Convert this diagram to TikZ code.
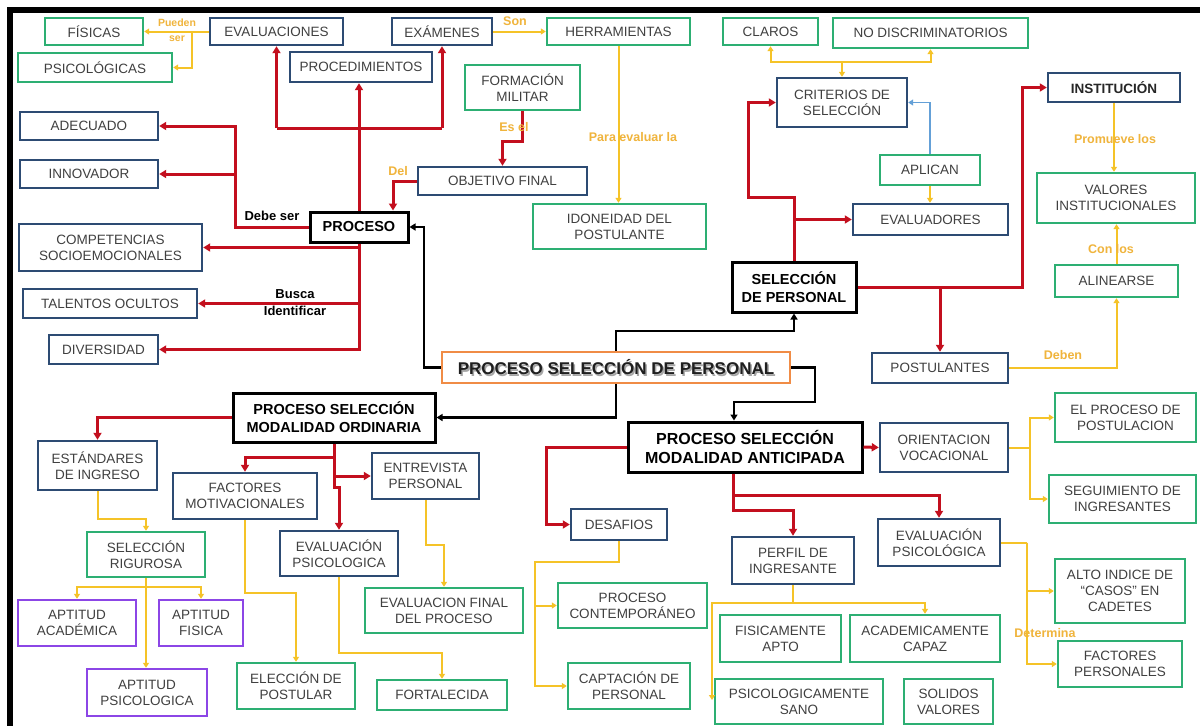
\documentclass[tikz,border=0pt]{standalone}
\usepackage{fontspec}
\setmainfont{Liberation Sans}
\usetikzlibrary{arrows.meta}
\definecolor{cblue}{RGB}{45,75,115}
\definecolor{cgreen}{RGB}{45,175,115}
\definecolor{cpurple}{RGB}{140,70,230}
\definecolor{corange}{RGB}{240,140,70}
\definecolor{cred}{RGB}{195,15,30}
\definecolor{cyel}{RGB}{245,195,40}
\definecolor{clab}{RGB}{240,180,60}
\definecolor{clblue}{RGB}{100,160,215}
\definecolor{txt}{RGB}{64,64,64}
\newcommand\mybox[7]{\node[#1,minimum width={#4-#2},minimum height={#5-#3}] (#6) at ({(#2+#4)/2},{(#3+#5)/2}) {#7};}
\begin{document}
\begin{tikzpicture}[x=1pt,y=-1pt,
  box/.style={draw, line width=2.4pt, fill=white, align=center, inner sep=1pt, text=txt, font=\fontsize{13.5}{16}\selectfont},
  bb/.style={box, draw=cblue},
  gb/.style={box, draw=cgreen},
  pb/.style={box, draw=cpurple},
  kb/.style={box, draw=black, line width=3pt, text=black, font=\bfseries\fontsize{14.5}{18}\selectfont},
  cb/.style={box, draw=corange, line width=2.5pt},
  rl/.style={draw=cred, line width=3pt},
  ra/.style={-{Triangle[length=7pt,width=8pt]}},
  bk/.style={draw=black, line width=2.2pt},
  ba/.style={-{Triangle[length=6pt,width=7pt]}},
  yl/.style={draw=cyel, line width=2pt},
  ya/.style={-{Triangle[length=5pt,width=6pt]}},
  bll/.style={draw=clblue, line width=1.6pt},
  lab/.style={text=clab, font=\bfseries\fontsize{12.5}{14}\selectfont, inner sep=0, align=center},
  blab/.style={text=black, font=\bfseries\fontsize{13}{17}\selectfont, inner sep=0, align=center}
]
\useasboundingbox (0,0) rectangle (1200,726);
\fill[white] (0,0) rectangle (1200,726);
\draw[line width=6pt] (7,10) -- (1200,10);
\draw[line width=6pt] (10,7) -- (10,726);

% nodes
\mybox{gb}{45}{18}{143}{45}{fisic}{FÍSICAS}
\mybox{gb}{18}{53}{172}{82}{psicol}{PSICOLÓGICAS}
\mybox{bb}{210}{18}{343}{45}{evalu}{EVALUACIONES}
\mybox{bb}{290}{52}{432}{82}{proced}{PROCEDIMIENTOS}
\mybox{bb}{392}{18}{492}{45}{exam}{EXÁMENES}
\mybox{gb}{547}{18}{690}{45}{herr}{HERRAMIENTAS}
\mybox{gb}{465}{65}{580}{110}{formm}{FORMACIÓN\\MILITAR}
\mybox{bb}{418}{167}{587}{195}{objf}{OBJETIVO FINAL}
\mybox{gb}{533}{204}{706}{249}{idon}{IDONEIDAD DEL\\POSTULANTE}
\mybox{gb}{723}{18}{818}{45}{claros}{CLAROS}
\mybox{gb}{833}{18}{1028}{48}{nodisc}{NO DISCRIMINATORIOS}
\mybox{bb}{777}{78}{907}{127}{crit}{CRITERIOS DE\\SELECCIÓN}
\mybox{bb,font=\bfseries\fontsize{13.5}{16}\selectfont,text=black!85}{1048}{73}{1180}{102}{inst}{INSTITUCIÓN}
\mybox{gb}{880}{155}{980}{185}{aplic}{APLICAN}
\mybox{bb}{853}{204}{1008}{235}{evald}{EVALUADORES}
\mybox{gb}{1037}{173}{1195}{223}{valor}{VALORES\\INSTITUCIONALES}
\mybox{gb}{1055}{265}{1178}{297}{alin}{ALINEARSE}
\mybox{bb}{872}{353}{1008}{383}{postu}{POSTULANTES}
\mybox{gb}{1055}{393}{1196}{442}{elproc}{EL PROCESO DE\\POSTULACION}
\mybox{kb}{732}{262}{856}{312}{sel}{SELECCIÓN\\DE PERSONAL}
\mybox{kb}{310}{212}{408}{242}{proc}{PROCESO}
\mybox{bb}{20}{112}{158}{140}{adec}{ADECUADO}
\mybox{bb}{20}{160}{158}{188}{innov}{INNOVADOR}
\mybox{bb}{19}{224}{202}{271}{comp}{COMPETENCIAS\\SOCIOEMOCIONALES}
\mybox{bb}{23}{289}{197}{318}{talen}{TALENTOS OCULTOS}
\mybox{bb}{49}{335}{158}{364}{divers}{DIVERSIDAD}
\mybox{cb}{442}{352}{790}{383}{central}{}
\node[text=black!35, font=\bfseries\fontsize{17}{20}\selectfont] at (617.5,369.5) {PROCESO SELECCIÓN DE PERSONAL};
\node[text=black!88, font=\bfseries\fontsize{17}{20}\selectfont] at (616,367.5) {PROCESO SELECCIÓN DE PERSONAL};
\mybox{kb}{233}{393}{435}{442}{ord}{PROCESO SELECCIÓN\\MODALIDAD ORDINARIA}
\mybox{kb,font=\bfseries\fontsize{16}{19}\selectfont}{628}{422}{862}{472}{antic}{PROCESO SELECCIÓN\\MODALIDAD ANTICIPADA}
\mybox{bb}{38}{441}{157}{490}{estand}{ESTÁNDARES\\DE INGRESO}
\mybox{bb}{173}{473}{317}{519}{factm}{FACTORES\\MOTIVACIONALES}
\mybox{bb}{372}{453}{479}{499}{entrev}{ENTREVISTA\\PERSONAL}
\mybox{bb}{280}{531}{398}{576}{evps1}{EVALUACIÓN\\PSICOLOGICA}
\mybox{gb}{87}{532}{205}{577}{selrig}{SELECCIÓN\\RIGUROSA}
\mybox{pb}{18}{600}{136}{646}{aptac}{APTITUD\\ACADÉMICA}
\mybox{pb}{159}{600}{243}{646}{aptfis}{APTITUD\\FISICA}
\mybox{pb}{87}{669}{207}{716}{aptps}{APTITUD\\PSICOLOGICA}
\mybox{gb}{237}{663}{355}{709}{elecc}{ELECCIÓN DE\\POSTULAR}
\mybox{gb}{365}{588}{523}{633}{evfin}{EVALUACION FINAL\\DEL PROCESO}
\mybox{gb}{377}{680}{507}{710}{fortal}{FORTALECIDA}
\mybox{bb}{571}{509}{667}{540}{desaf}{DESAFIOS}
\mybox{gb}{558}{583}{707}{628}{contem}{PROCESO\\CONTEMPORÁNEO}
\mybox{gb}{568}{663}{690}{709}{capt}{CAPTACIÓN DE\\PERSONAL}
\mybox{bb}{880}{423}{1008}{472}{orient}{ORIENTACION\\VOCACIONAL}
\mybox{gb}{1049}{475}{1196}{523}{segui}{SEGUIMIENTO DE\\INGRESANTES}
\mybox{bb}{878}{519}{1000}{566}{evps2}{EVALUACIÓN\\PSICOLÓGICA}
\mybox{bb}{732}{537}{854}{584}{perfil}{PERFIL DE\\INGRESANTE}
\mybox{gb}{1055}{559}{1185}{623}{alto}{ALTO INDICE DE\\``CASOS'' EN\\CADETES}
\mybox{gb}{1058}{641}{1182}{687}{factp}{FACTORES\\PERSONALES}
\mybox{gb}{720}{615}{841}{662}{fisica}{FISICAMENTE\\APTO}
\mybox{gb}{850}{615}{1000}{662}{acad}{ACADEMICAMENTE\\CAPAZ}
\mybox{gb}{715}{679}{883}{724}{psicos}{PSICOLOGICAMENTE\\SANO}
\mybox{gb}{904}{679}{993}{724}{solid}{SOLIDOS\\VALORES}

% red top
\coordinate (rA) at (276.5,128);
\coordinate (rB) at (442,128);
\draw[rl] (rA) -- (rB);
\draw[rl,ra] (rA) -- (evalu.south);
\draw[rl,ra] (rB) -- (exam.south);
\draw[rl,ra] (proc.north) -- (proc.north |- proced.south);
% debe ser
\coordinate (ds) at (235,227);
\draw[rl,ra] (proc.west) -- (ds) |- (adec.east);
\draw[rl,ra] (ds |- innov.east) -- (innov.east);
% busca identificar
\coordinate (bi) at (359,349.5);
\draw[rl,ra] (proc.south) -- (bi) -- (divers.east);
\draw[rl,ra] (proc.south |- comp.east) -- (comp.east);
\draw[rl,ra] (proc.south |- talen.east) -- (talen.east);
% del / es el
\coordinate (dl) at (393,181);
\draw[rl,ra] (objf.west) -- (dl) -- (dl |- proc.north);
\draw[rl,ra] (formm.south) -- ++(0,30) -| (objf.north);

% black
\draw[bk,ba] (central.west) -- ++(-17,0) |- (proc.east);
\draw[bk,ba] (central.north) -- ++(0,-20) -| (sel.south);
\coordinate (bk1) at (815,402);
\coordinate (bk2) at (734,402);
\draw[bk,ba] (central.east) -| (bk1) -- (bk2) -- (bk2 |- antic.north);
\draw[bk,ba] (central.south) |- (ord.east);

% seleccion de personal
\coordinate (s1) at (794,197);
\coordinate (s2) at (748,197);
\draw[rl,ra] (sel.north) -- (s1) -- (s2) |- (crit.west);
\draw[rl,ra] (sel.north |- evald.west) -- (evald.west);
\coordinate (s3) at (1022,287);
\draw[rl,ra] (sel.east) -- (s3) |- (inst.west);
\draw[rl,ra] (sel.east -| postu.north) -- (postu.north);

% yellow top
\coordinate (py) at (192,31.5);
\draw[yl,ya] (evalu.west) -- (fisic.east);
\draw[yl,ya] (py) |- (psicol.east);
\draw[yl,ya] (exam.east) -- (herr.west);
\draw[yl,ya] (herr.south) -- (herr.south |- idon.north);
\coordinate (cj) at (842,62);
\draw[yl,ya] (cj) -- (crit.north);
\draw[yl,ya] (cj) -| (claros.south);
\draw[yl,ya] (cj) -| (nodisc.south);
\draw[bll,ya] (aplic.north) |- (crit.east);
\draw[yl,ya] (aplic.south) -- (aplic.south |- evald.north);
\draw[yl,ya] (inst.south) -- (inst.south |- valor.north);
\draw[yl,ya] (alin.north) -- (alin.north |- valor.south);
\draw[yl,ya] (postu.east) -| (alin.south);

% ordinaria
\draw[rl,ra] (ord.west) -| (estand.north);
\coordinate (o1) at (334,457);
\coordinate (o3) at (334,487);
\coordinate (o4) at (339,487);
\draw[rl,ra] (ord.south) -- (o1) -| (factm.north);
\draw[rl,ra] (o1) |- (entrev.west);
\draw[rl,ra] (o1) -- (o3) -- (o4) -- (o4 |- evps1.north);
\draw[yl,ya] (estand.south) -- ++(0,28) -| (selrig.north);
\coordinate (sr) at (146,587);
\draw[yl,ya] (sr) -| (aptac.north);
\draw[yl,ya] (sr) -| (aptfis.north);
\draw[yl,ya] (selrig.south) -- (selrig.south |- aptps.north);
\draw[yl,ya] (factm.south) -- ++(0,73) -| (elecc.north);
\draw[yl,ya] (evps1.south) -- ++(0,76) -| (fortal.north);
\draw[yl,ya] (entrev.south) -- ++(0,45) -| (evfin.north);

% anticipada
\draw[rl,ra] (antic.west) -- ++(-80,0) |- (desaf.west);
\draw[rl,ra] (antic.east) -- (orient.west);
\coordinate (a1) at (733,495);
\coordinate (a2) at (733,510);
\draw[rl,ra] (a1 |- antic.south) -- (a1) -| (evps2.north);
\draw[rl,ra] (a1) -- (a2) -| (perfil.north);
\coordinate (oj) at (1030,447.5);
\draw[yl] (orient.east) -- (oj);
\draw[yl,ya] (oj) |- (elproc.west);
\draw[yl,ya] (oj) |- (segui.west);
\coordinate (d1) at (535,562);
\draw[yl,ya] (desaf.south) |- (d1) |- (capt.west);
\draw[yl,ya] (d1 |- contem.west) -- (contem.west);
\coordinate (p1) at (793,603);
\coordinate (p2) at (712,603);
\coordinate (p3) at (712,700);
\draw[yl] (perfil.south) -- (p1);
\draw[yl,ya] (p1) -| (acad.north);
\draw[yl,ya] (p1) -- (p2) -- (p3);
\coordinate (ep) at (1027,542.5);
\draw[yl] (evps2.east) -- (ep);
\draw[yl,ya] (ep) |- (alto.west);
\draw[yl,ya] (ep) |- (factp.west);

% labels
\node[lab,font=\bfseries\fontsize{10.5}{15}\selectfont] at (177,30) {Pueden\\ser};
\node[lab] at (515,21) {Son};
\node[lab] at (514,127) {Es el};
\node[lab] at (398,171) {Del};
\node[lab] at (633,137) {Para evaluar la};
\node[lab] at (1115,139) {Promueve los};
\node[lab] at (1111,249) {Con los};
\node[lab] at (1063,355) {Deben};
\node[lab] at (1045,633) {Determina};
\node[blab] at (272,216) {Debe ser};
\node[blab] at (295,303) {Busca\\Identificar};
\end{tikzpicture}
\end{document}
